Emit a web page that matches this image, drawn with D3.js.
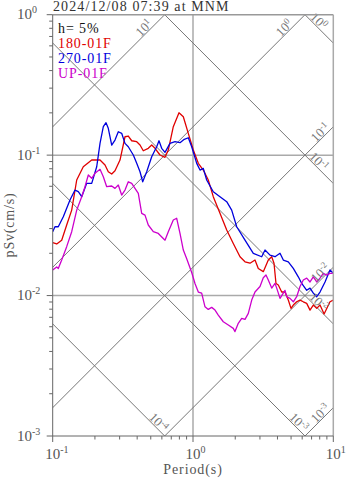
<!DOCTYPE html>
<html>
<head>
<meta charset="utf-8">
<script src="https://cdn.jsdelivr.net/npm/d3@7"></script>
<style>
  body { margin: 0; background: #fff; }
  svg { display: block; }
  text { font-family: "Liberation Serif", "Times New Roman", serif; }
</style>
</head>
<body>
<svg id="chart" width="347" height="478"></svg>
<script>
// Event header and damping
const titleText = "2024/12/08 07:39 at MNM";
const dampingText = "h= 5%";

// Components
const seriesNames = ["180-01F", "270-01F", "UP-01F"];
const seriesColors = ["#e00000", "#0000dd", "#cc00cc"];

// Pseudo-velocity response spectra: period (s) and pSv (cm/s)
const periods180 = [0.1, 0.1068, 0.1159, 0.1258, 0.1366, 0.1483, 0.1652, 0.1897, 0.2174, 0.236,
  0.249, 0.2634, 0.278, 0.3018, 0.3276, 0.3458, 0.3657, 0.397, 0.4191, 0.4422,
  0.48, 0.5077, 0.5361, 0.5817, 0.6316, 0.6668, 0.7237, 0.7947, 0.8531, 0.9258,
  1.005, 1.091, 1.184, 1.285, 1.395, 1.557, 1.739, 1.937, 2.163, 2.348,
  2.549, 2.766, 2.92, 3.17, 3.441, 3.638, 3.779, 3.904, 4.055, 4.288,
  4.526, 4.778, 4.994, 5.187, 5.484, 5.79, 6.112, 6.463, 6.824, 7.204,
  7.617, 8.041, 8.6, 9.473, 10];
const sv180 = [0.0238, 0.0233, 0.0248, 0.0318, 0.0406, 0.0665, 0.0827, 0.0923, 0.0923, 0.085,
  0.0762, 0.0733, 0.0774, 0.0923, 0.1352, 0.1368, 0.1266, 0.1246, 0.118, 0.1075,
  0.1118, 0.118, 0.1118, 0.1002, 0.0965, 0.1087, 0.1594, 0.2004, 0.1877, 0.143,
  0.1087, 0.0874, 0.0783, 0.0665, 0.0506, 0.0385, 0.0293, 0.0235, 0.0189, 0.0174,
  0.017, 0.0179, 0.0156, 0.0148, 0.0179, 0.0189, 0.017, 0.0122, 0.0119, 0.0106,
  0.0106, 0.00929, 0.00811, 0.00856, 0.00903, 0.00929, 0.00903, 0.0088, 0.00788, 0.00856,
  0.00811, 0.00856, 0.0074, 0.00903, 0.00929];

const periods270 = [0.1, 0.1038, 0.1096, 0.119, 0.1328, 0.1442, 0.1522, 0.161, 0.1747, 0.1897,
  0.2059, 0.2174, 0.2295, 0.2399, 0.249, 0.2634, 0.278, 0.2935, 0.3102, 0.3276,
  0.3458, 0.3754, 0.397, 0.4191, 0.438, 0.4677, 0.5077, 0.5511, 0.5723, 0.5981,
  0.6316, 0.6855, 0.7441, 0.8079, 0.867, 0.9258, 0.9788, 1.063, 1.122, 1.184,
  1.252, 1.395, 1.557, 1.739, 1.887, 2.049, 2.348, 2.691, 3.088, 3.261,
  3.538, 3.842, 4.171, 4.402, 4.778, 5.187, 5.63, 5.955, 6.463, 6.824,
  7.204, 7.617, 8.041, 8.73, 9.473, 10];
const sv270 = [0.0285, 0.0309, 0.0309, 0.0364, 0.0479, 0.0564, 0.0549, 0.0506, 0.063, 0.063,
  0.0827, 0.1213, 0.1594, 0.1701, 0.1552, 0.118, 0.1281, 0.1468, 0.143, 0.1213,
  0.1148, 0.1002, 0.0874, 0.0762, 0.0646, 0.0762, 0.0974, 0.1148, 0.1266, 0.1118,
  0.1047, 0.1213, 0.1246, 0.1226, 0.1296, 0.133, 0.1148, 0.0874, 0.0783, 0.0805,
  0.0665, 0.0549, 0.0506, 0.0466, 0.0406, 0.0309, 0.0248, 0.02, 0.0189, 0.0211,
  0.0194, 0.0189, 0.02, 0.0179, 0.0174, 0.0156, 0.0136, 0.0122, 0.0109, 0.0113,
  0.0104, 0.00981, 0.0106, 0.0125, 0.0152, 0.0144];

const periodsUP = [0.1, 0.1068, 0.1096, 0.1159, 0.1258, 0.1366, 0.1483, 0.161, 0.1699, 0.1794,
  0.1897, 0.2002, 0.2174, 0.2295, 0.2426, 0.2634, 0.278, 0.2935, 0.3102, 0.3276,
  0.3458, 0.3657, 0.386, 0.4075, 0.4309, 0.4549, 0.48, 0.5212, 0.5658, 0.6316,
  0.6668, 0.7237, 0.7652, 0.8079, 0.8531, 0.9019, 0.9788, 1.033, 1.091, 1.153,
  1.218, 1.285, 1.359, 1.435, 1.514, 1.644, 1.785, 1.937, 1.992, 2.103,
  2.224, 2.348, 2.479, 2.621, 2.766, 3.003, 3.17, 3.313, 3.441, 3.638,
  3.842, 3.951, 4.171, 4.526, 4.655, 4.913, 5.187, 5.484, 5.79, 6.112,
  6.463, 6.824, 7.204, 7.617, 8.041, 8.487, 8.974, 9.473, 10];
const svUP = [0.0152, 0.016, 0.0156, 0.0179, 0.0223, 0.0285, 0.0406, 0.0506, 0.0596, 0.0722,
  0.0684, 0.0742, 0.0792, 0.0702, 0.0596, 0.0603, 0.058, 0.0612, 0.052, 0.0564,
  0.0646, 0.063, 0.058, 0.0535, 0.0385, 0.0374, 0.0318, 0.0285, 0.0277, 0.0248,
  0.0285, 0.0345, 0.0355, 0.0277, 0.0211, 0.0183, 0.0146, 0.0122, 0.0106, 0.0104,
  0.00832, 0.00797, 0.00824, 0.00788, 0.00726, 0.00651, 0.00617, 0.00584, 0.00554, 0.00634,
  0.00688, 0.00677, 0.00747, 0.00929, 0.0106, 0.0116, 0.0134, 0.014, 0.0129, 0.0113,
  0.0122, 0.0113, 0.00955, 0.0109, 0.00981, 0.00955, 0.00903, 0.00981, 0.0116, 0.0129,
  0.0133, 0.0125, 0.0136, 0.0125, 0.0133, 0.0144, 0.014, 0.0144, 0.0144];

// Axis decades (powers of ten)
const xTickExps = [-1, 0, 1];
const yTickExps = [-3, -2, -1, 0];
// Tripartite guide lines: constant acceleration (cm/s^2) and displacement (cm)
const accelExps = [1, 0, -1, -2, -3];
const dispExps = [0, -1, -2, -3, -4];

const series = [
  { name: seriesNames[0], color: seriesColors[0], T: periods180, v: sv180 },
  { name: seriesNames[1], color: seriesColors[1], T: periods270, v: sv270 },
  { name: seriesNames[2], color: seriesColors[2], T: periodsUP, v: svUP }
];

const svg = d3.select("#chart");
const L = 52.7, R = 333.3, T0 = 14.7, B = 436;
const x = d3.scaleLog().domain([0.1, 10]).range([L, R]);
const y = d3.scaleLog().domain([0.001, 1]).range([B, T0]);
const TWO_PI = 2 * Math.PI;

svg.append("defs").append("clipPath").attr("id", "plotclip")
  .append("rect").attr("x", L).attr("y", T0).attr("width", R - L).attr("height", B - T0);

const plot = svg.append("g").attr("clip-path", "url(#plotclip)");

// Grid at decades
plot.selectAll("line.vgrid").data([1]).enter().append("line")
  .attr("x1", d => x(d)).attr("x2", d => x(d)).attr("y1", T0).attr("y2", B)
  .attr("stroke", "#aaa").attr("stroke-width", 1.5);
plot.selectAll("line.hgrid").data([0.1, 0.01]).enter().append("line")
  .attr("x1", L).attr("x2", R).attr("y1", d => y(d)).attr("y2", d => y(d))
  .attr("stroke", "#aaa").attr("stroke-width", 1.5);

// Diagonal guide lines
const accelFn = sa => t => sa * t / TWO_PI;
const dispFn = sd => t => TWO_PI * sd / t;
const guideLine = d3.line().x(d => x(d[0])).y(d => y(d[1]));
const tEnds = [0.01, 100];
accelExps.forEach(k => {
  const f = accelFn(Math.pow(10, k));
  plot.append("path").attr("d", guideLine(tEnds.map(t => [t, f(t)])))
    .attr("fill", "none").attr("stroke", "#777").attr("stroke-width", 1);
});
dispExps.forEach(k => {
  const f = dispFn(Math.pow(10, k));
  plot.append("path").attr("d", guideLine(tEnds.map(t => [t, f(t)])))
    .attr("fill", "none").attr("stroke", "#777").attr("stroke-width", 1);
});

// Power-of-ten label helper
function powLabel(sel, exp, base, sup, supDy) {
  sel.append("tspan").text("10").attr("font-size", base);
  sel.append("tspan").text(String(exp)).attr("font-size", sup).attr("dy", supDy);
}

// Guide-line labels near where each line leaves the frame
const diagLabels = svg.append("g").attr("fill", "#777");
accelExps.forEach(k => {
  const sa = Math.pow(10, k);
  const f = accelFn(sa);
  const tTop = TWO_PI / sa;
  let px;
  if (tTop < 10) px = x(tTop) - 17; else px = R - 9.3;
  const py = y(f(x.invert(px)));
  const cx = px - 3.9, cy = py - 3.9;
  const t = diagLabels.append("text")
    .attr("text-anchor", "middle")
    .attr("transform", `translate(${cx},${cy}) rotate(-45)`)
    .attr("y", 4.5);
  powLabel(t, k, 13, 9, -4.5);
});
dispExps.forEach(k => {
  const sd = Math.pow(10, k);
  const f = dispFn(sd);
  const tBot = TWO_PI * sd / 0.001;
  let px;
  if (tBot < 10) px = x(tBot) - 10; else px = R - 18.3;
  const py = y(f(x.invert(px)));
  const cx = px + 3.9, cy = py - 3.9;
  const t = diagLabels.append("text")
    .attr("text-anchor", "middle")
    .attr("transform", `translate(${cx},${cy}) rotate(45)`)
    .attr("y", 4.5);
  powLabel(t, k, 13, 9, -4.5);
});

// Spectra
const specLine = d3.line().x(d => x(d[0])).y(d => y(d[1]));
series.forEach(s => {
  plot.append("path")
    .attr("d", specLine(s.T.map((t, i) => [t, s.v[i]])))
    .attr("fill", "none").attr("stroke", s.color).attr("stroke-width", 1.3)
    .attr("stroke-linejoin", "round");
});

// Frame: light top/right, darker left/bottom axes
svg.append("line").attr("x1", L).attr("x2", R).attr("y1", T0).attr("y2", T0).attr("stroke", "#999").attr("stroke-width", 1.5);
svg.append("line").attr("x1", R).attr("x2", R).attr("y1", T0).attr("y2", B).attr("stroke", "#aaa").attr("stroke-width", 1.5);
svg.append("line").attr("x1", L).attr("x2", L).attr("y1", T0).attr("y2", B).attr("stroke", "#666").attr("stroke-width", 1);
svg.append("line").attr("x1", L).attr("x2", R).attr("y1", B).attr("y2", B).attr("stroke", "#666").attr("stroke-width", 1);

// Ticks
const minorX = [], minorY = [];
for (let e = -1; e < 1; e++) for (let m = 2; m <= 9; m++) minorX.push(m * Math.pow(10, e));
for (let e = -3; e < 0; e++) for (let m = 2; m <= 9; m++) minorY.push(m * Math.pow(10, e));
const ticks = svg.append("g").attr("stroke", "#666").attr("stroke-width", 1);
xTickExps.forEach(e => ticks.append("line").attr("x1", x(Math.pow(10, e))).attr("x2", x(Math.pow(10, e))).attr("y1", B).attr("y2", B + 6));
minorX.forEach(v => ticks.append("line").attr("x1", x(v)).attr("x2", x(v)).attr("y1", B).attr("y2", B + 3.5));
yTickExps.forEach(e => ticks.append("line").attr("x1", L - 6).attr("x2", L).attr("y1", y(Math.pow(10, e))).attr("y2", y(Math.pow(10, e))));
minorY.forEach(v => ticks.append("line").attr("x1", L - 3.5).attr("x2", L).attr("y1", y(v)).attr("y2", y(v)));

// Tick labels
const tickLabels = svg.append("g").attr("fill", "#555");
xTickExps.forEach(e => {
  const t = tickLabels.append("text").attr("x", x(Math.pow(10, e)) - 7.5).attr("y", 459);
  powLabel(t, e, 15, 10, -6);
});
yTickExps.forEach(e => {
  const t = tickLabels.append("text").attr("x", 17).attr("y", y(Math.pow(10, e)) + 4.5);
  powLabel(t, e, 15, 10, -6);
});

// Axis titles
svg.append("text").attr("transform", "translate(14,225) rotate(-90)")
  .attr("text-anchor", "middle").attr("font-size", 14).attr("letter-spacing", 0.8)
  .attr("fill", "#555").text("pSv(cm/s)");
svg.append("text").attr("x", 193).attr("y", 474)
  .attr("text-anchor", "middle").attr("font-size", 14).attr("letter-spacing", 0.9)
  .attr("fill", "#555").text("Period(s)");

// Title
svg.append("text").attr("x", 53).attr("y", 10.5).attr("font-size", 14).attr("letter-spacing", 1.1)
  .attr("fill", "#333").text(titleText);

// Legend
const legend = svg.append("g").attr("font-size", 14).attr("letter-spacing", 0.9);
legend.append("text").attr("x", 58).attr("y", 33.3).attr("fill", "#111").text(dampingText);
series.forEach((s, i) => {
  legend.append("text").attr("x", 58).attr("y", 48.3 + i * 15)
    .attr("fill", s.color).text(s.name);
});
</script>
</body>
</html>
